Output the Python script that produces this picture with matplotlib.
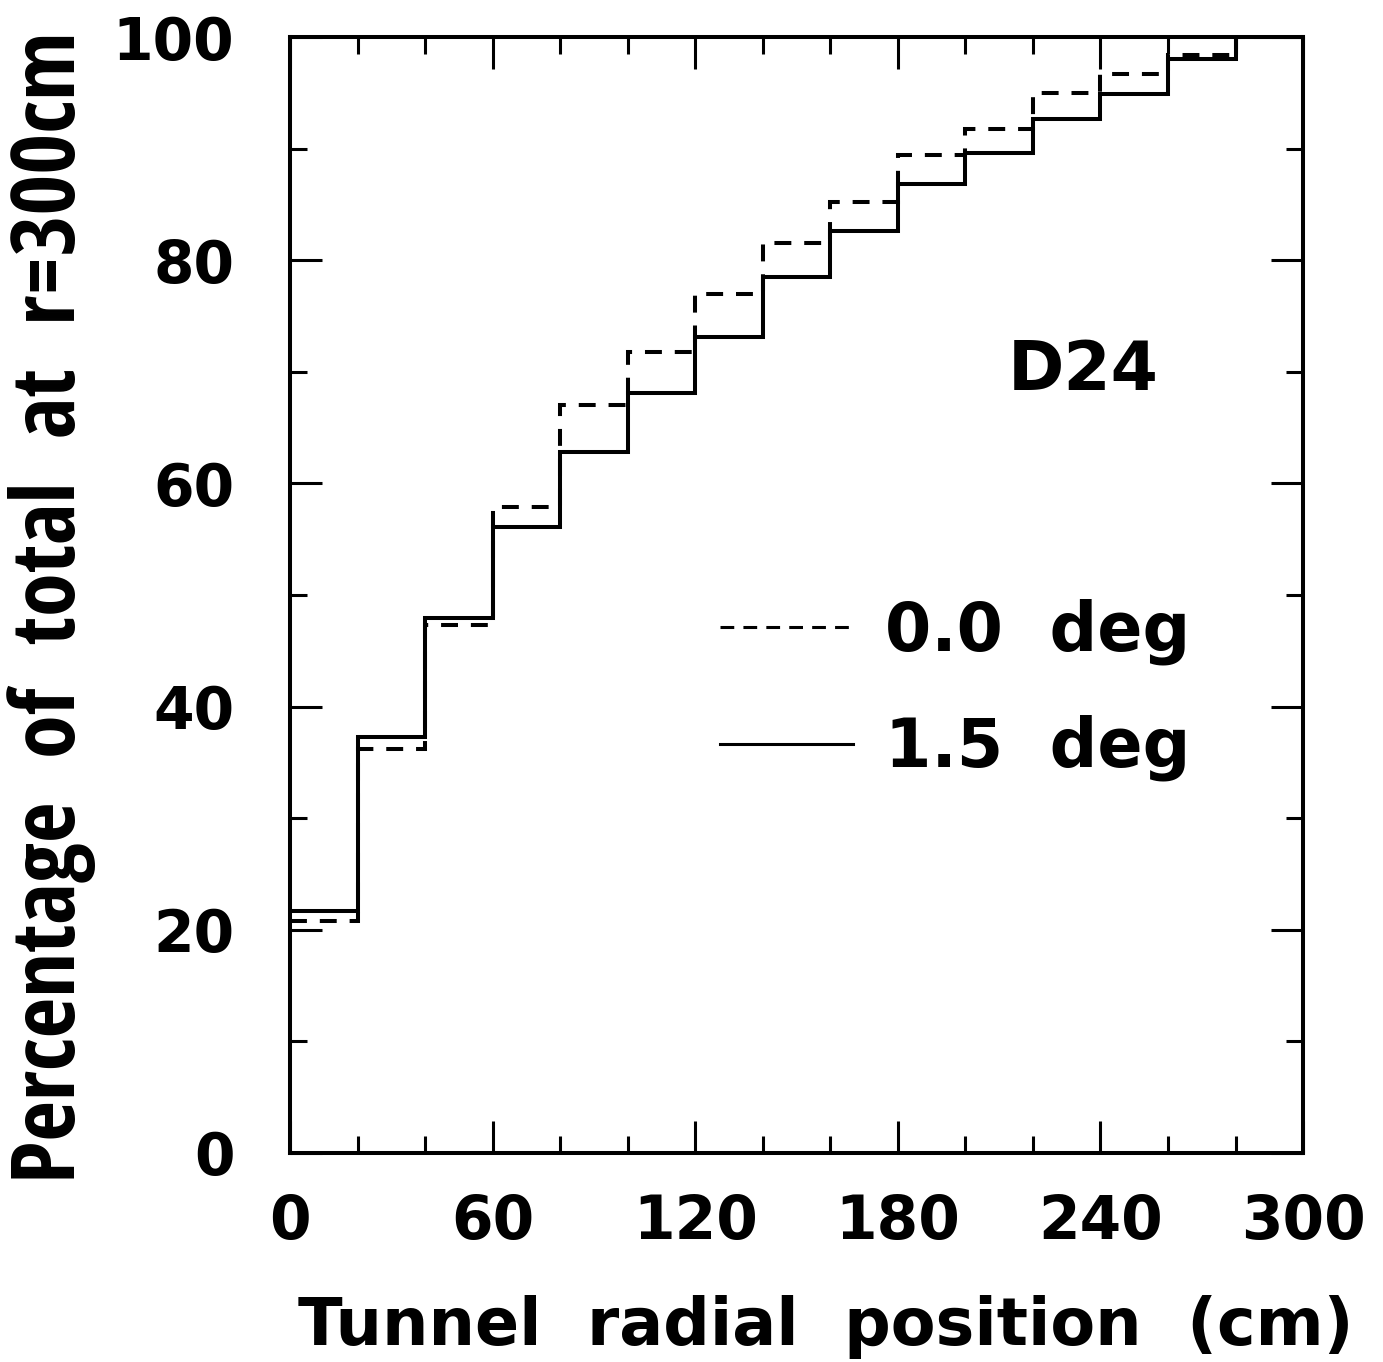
import numpy as np
import matplotlib
matplotlib.use('Agg')
import matplotlib.pyplot as plt
from matplotlib.lines import Line2D
from matplotlib.ticker import MultipleLocator

# Bin edges (cm) and cumulative percentages
edges = np.arange(0, 301, 20)
pct_00deg = [20.8, 36.2, 47.3, 57.9, 67.0, 71.8, 77.0, 81.5, 85.2, 89.4,
             91.8, 95.0, 96.7, 98.4, 100.0]
pct_15deg = [21.7, 37.3, 47.9, 56.1, 62.8, 68.1, 73.1, 78.5, 82.6, 86.8,
             89.6, 92.7, 94.9, 98.0, 100.0]

xticks = [0, 60, 120, 180, 240, 300]
yticks = [0, 20, 40, 60, 80, 100]

# narrow face for the y title only, everything else in wide DejaVu bold
COND = ['Open Sans Condensed', 'DejaVu Sans']
plt.rcParams['font.family'] = ['DejaVu Sans']
plt.rcParams['font.weight'] = 'bold'

W, H = 1383, 1362
fig = plt.figure(figsize=(W / 100, H / 100), dpi=100)
ax = fig.add_axes([0.2097, 0.1535, 0.7325, 0.8193])

lw = 2.9
ax.stairs(pct_00deg, edges, baseline=None, color='black', lw=lw,
          linestyle=(0, (4.2, 3.2)))
ax.stairs(pct_15deg, edges, baseline=None, color='black', lw=lw)

ax.set_xlim(0, 300)
ax.set_ylim(0, 100)
ax.set_xticks(xticks)
ax.set_yticks(yticks)
ax.xaxis.set_minor_locator(MultipleLocator(20))
ax.yaxis.set_minor_locator(MultipleLocator(10))
ax.tick_params(which='both', direction='in', top=True, right=True, width=2.2)
ax.tick_params(axis='y', pad=40, labelsize=42)
ax.tick_params(axis='x', pad=29, labelsize=43)
ax.tick_params(which='major', length=23)
ax.tick_params(which='minor', length=12)
for sp in ax.spines.values():
    sp.set_linewidth(2.9)

fig.text(826 / W, 1 - 1345 / H, 'Tunnel  radial  position  (cm)',
         fontsize=47, ha='center', va='baseline')
fig.text(52 / W, 1 - 607 / H, 'Percentage  of  total  at  r=300cm',
         fontsize=63.5, family=COND, fontweight='bold', rotation=90,
         ha='center', va='center')

ax.text(0.708, 0.684, 'D24', transform=ax.transAxes, fontsize=49,
        ha='left', va='baseline')

handles = [Line2D([], [], color='black', lw=2.2, linestyle=(0, (4.5, 3))),
           Line2D([], [], color='black', lw=2.2)]
leg = ax.legend(handles, ['0.0  deg', '1.5  deg'], loc='upper left',
                bbox_to_anchor=(0.4245, 0.497), frameon=False,
                prop={'size': 48, 'weight': 'bold'}, handlelength=2.0,
                borderpad=0, borderaxespad=0, handletextpad=0.48,
                labelspacing=0.75)

fig.savefig('out.png', dpi=100)
